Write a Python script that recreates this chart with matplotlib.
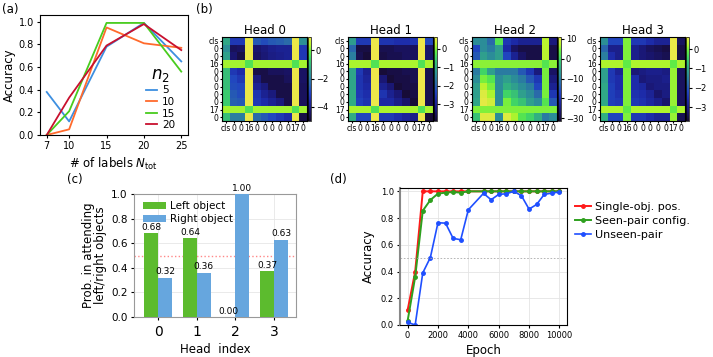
import numpy as np
import matplotlib
matplotlib.use('Agg')
import matplotlib.pyplot as plt
from matplotlib.colors import LinearSegmentedColormap

# ---- (a) accuracy vs number of labels
n_labels = [7, 10, 15, 20, 25]
acc_n2_5 = [0.38, 0.12, 0.78, 0.99, 0.65]
acc_n2_10 = [0.0, 0.05, 0.95, 0.81, 0.77]
acc_n2_15 = [0.0, 0.21, 0.99, 0.99, 0.56]
acc_n2_20 = [0.0, 0.33, 0.79, 0.98, 0.75]

# ---- (b) attention logits per head
tok_labels = ['cls', '0', '0', '16', '0', '0', '0', '0', '0', '17', '0']
head0 = [
    [-1.3, -3.2, -3.2, 0.9, -2.6, -2.8, -2.6, -2.5, -2.3, 0.9, -1.7],
    [-1.7, -4.5, -4.4, 0.9, -4.3, -4.1, -3.9, -3.8, -3.8, 0.9, -3.2],
    [-1.4, -4.3, -4.7, 0.9, -4.4, -4.2, -4.0, -3.9, -3.8, 0.9, -3.2],
    [0.3, 0.3, 0.3, -0.3, 0.3, 0.3, 0.3, 0.3, 0.3, -0.3, 0.3],
    [-0.9, -3.2, -3.5, 0.9, -4.7, -4.7, -4.5, -4.5, -4.4, 0.9, -4.4],
    [-0.9, -2.9, -3.2, 0.9, -4.1, -4.7, -4.7, -4.7, -4.5, 0.9, -4.4],
    [-0.9, -2.8, -2.9, 0.9, -3.8, -4.1, -4.7, -4.7, -4.7, 0.9, -4.5],
    [-0.7, -2.6, -2.8, 0.9, -3.3, -3.8, -4.1, -4.7, -4.7, 0.9, -4.5],
    [-0.7, -2.5, -2.6, 0.9, -3.2, -3.5, -3.8, -4.1, -4.7, 0.9, -4.5],
    [0.3, 0.3, 0.3, -0.3, 0.3, 0.3, 0.3, 0.3, 0.3, -0.3, 0.3],
    [-0.9, -2.0, -2.0, 0.9, -2.3, -2.6, -2.9, -3.2, -3.5, 0.9, -4.7],
]
head1 = [
    [-1.2, -2.5, -2.5, 0.65, -2.6, -2.6, -2.7, -2.7, -2.6, 0.65, -2.3],
    [-1.9, -3.7, -3.7, 0.65, -3.6, -3.6, -3.5, -3.5, -3.5, 0.65, -3.4],
    [-1.6, -3.6, -3.8, 0.65, -3.7, -3.6, -3.6, -3.5, -3.5, 0.65, -3.4],
    [0.2, 0.2, 0.2, -0.3, 0.2, 0.2, 0.2, 0.2, 0.2, -0.3, 0.2],
    [-1.1, -2.5, -3.0, 0.65, -3.8, -3.7, -3.7, -3.6, -3.6, 0.65, -3.6],
    [-1.1, -2.6, -2.9, 0.65, -3.3, -3.8, -3.7, -3.7, -3.6, 0.65, -3.6],
    [-1.1, -2.6, -2.8, 0.65, -3.0, -3.3, -3.8, -3.7, -3.7, 0.65, -3.6],
    [-1.0, -2.5, -2.7, 0.65, -2.6, -3.0, -3.3, -3.8, -3.7, 0.65, -3.6],
    [-1.0, -2.4, -2.6, 0.65, -2.8, -2.8, -3.1, -3.4, -3.8, 0.65, -3.6],
    [0.2, 0.2, 0.2, -0.3, 0.2, 0.2, 0.2, 0.2, 0.2, -0.3, 0.2],
    [-1.0, -2.3, -2.3, 0.65, -2.5, -2.5, -2.7, -2.9, -3.1, 0.65, -3.8],
]
head2 = [
    [-8.1, -8.1, -12.4, 2.5, -18.8, -20.9, -23.0, -23.0, -23.0, 7.6, -25.1],
    [-16.6, -8.1, -10.3, -6.0, -20.9, -27.3, -29.4, -29.4, -29.4, 7.6, -29.4],
    [-14.5, -6.0, -8.1, -6.0, -16.6, -23.0, -27.3, -29.4, -29.4, 7.6, -29.4],
    [5.5, 5.5, 5.5, 5.5, 5.5, 5.5, 5.5, 5.5, 5.5, 2.5, 5.5],
    [-10.3, 0.4, -6.0, -10.3, -10.3, -10.3, -14.5, -18.8, -25.1, 4.6, -27.3],
    [-8.1, 4.6, 2.5, -8.1, -6.0, -8.1, -10.3, -14.5, -18.8, 4.6, -25.1],
    [-6.0, 7.6, 4.6, -8.1, -3.9, -6.0, -8.1, -10.3, -16.6, 4.6, -23.0],
    [-6.0, 9.7, 6.8, -8.1, 0.4, -1.8, -6.0, -8.1, -12.4, 4.6, -18.8],
    [-5.2, 10.2, 8.9, -8.1, 4.6, 0.4, -1.8, -6.0, -8.1, 2.5, -14.5],
    [5.0, 5.0, 5.0, 5.0, 5.0, 5.0, 5.0, 5.0, 5.0, 5.0, 5.0],
    [-1.8, 9.7, 9.7, -8.1, 9.7, 6.8, 2.5, 0.4, -3.9, -10.3, -8.1],
]
head3 = [
    [-1.3, -2.2, -2.2, 0.0, -2.4, -2.4, -2.6, -2.8, -2.8, 0.6, -3.3],
    [-1.8, -2.9, -2.9, 0.0, -2.9, -3.1, -3.3, -3.4, -3.5, 0.6, -3.5],
    [-1.5, -2.6, -2.9, 0.0, -2.9, -3.1, -3.2, -3.3, -3.4, 0.6, -3.5],
    [0.2, 0.2, 0.2, -0.15, 0.2, 0.2, 0.2, 0.2, 0.2, -0.15, 0.2],
    [-1.1, -2.4, -2.8, 0.0, -3.1, -3.0, -2.9, -2.9, -3.0, 0.1, -3.3],
    [-1.1, -2.4, -2.6, 0.0, -2.6, -3.1, -3.0, -3.0, -2.9, 0.1, -3.3],
    [-1.0, -2.3, -2.6, 0.0, -2.6, -2.7, -3.1, -3.0, -3.0, 0.1, -3.3],
    [-1.0, -2.3, -2.5, 0.0, -2.5, -2.6, -2.8, -3.2, -3.0, 0.1, -3.3],
    [-1.0, -2.3, -2.4, 0.0, -2.4, -2.5, -2.7, -2.9, -3.2, 0.1, -3.3],
    [0.2, 0.2, 0.2, -0.15, 0.2, 0.2, 0.2, 0.2, 0.2, -0.15, 0.2],
    [-0.9, -2.2, -2.2, 0.0, -2.4, -2.4, -2.6, -2.8, -2.8, 0.1, -3.4],
]
head_ranges = [(-5.0, 0.93), (-3.9, 0.65), (-31.5, 11.0), (-3.7, 0.62)]
head_cticks = [[0, -2, -4], [0, -1, -2, -3], [10, 0, -10, -20, -30], [0, -1, -2, -3]]

# ---- (c) left / right attention probability
heads = [0, 1, 2, 3]
p_left = [0.68, 0.64, 0.00, 0.37]
p_right = [0.32, 0.36, 1.00, 0.63]

# ---- (d) accuracy vs epoch
epochs = [0, 500, 1000, 1500, 2000, 2500, 3000, 3500, 4000,
          5000, 5500, 6000, 6500, 7000, 7500, 8000, 8500, 9000, 9500, 10000]
acc_single = [0.11, 0.40, 1.0, 1.0, 1.0, 1.0, 1.0, 1.0, 1.0,
              1.0, 1.0, 1.0, 1.0, 1.0, 1.0, 1.0, 1.0, 1.0, 1.0, 1.0]
acc_seen = [0.03, 0.36, 0.855, 0.935, 0.983, 0.99, 0.995, 0.99, 1.0,
            1.0, 1.0, 1.0, 1.0, 1.0, 1.0, 1.0, 1.0, 1.0, 1.0, 1.0]
acc_unseen = [0.02, 0.0, 0.39, 0.505, 0.765, 0.762, 0.648, 0.638, 0.862,
              0.985, 0.937, 0.977, 0.982, 1.0, 0.967, 0.867, 0.902, 0.977, 0.987, 0.995]

W, H = 713, 357
fig = plt.figure(figsize=(W / 100, H / 100), dpi=100)


def box(l, t, r, b):
    return fig.add_axes([l / W, 1 - b / H, (r - l) / W, (b - t) / H])


# ================= (a)
ax = box(40, 15, 188, 135)
ax.plot(n_labels, acc_n2_5, color='#3d8fe0', lw=1.3, label='5')
ax.plot(n_labels, acc_n2_10, color='#ff6a2c', lw=1.3, label='10')
ax.plot(n_labels, acc_n2_15, color='#48cc1e', lw=1.3, label='15')
ax.plot(n_labels, acc_n2_20, color='#c8102e', lw=1.3, label='20')
ax.set_ylim(0, 1.06)
ax.set_xticks(n_labels)
ax.tick_params(labelsize=7, length=2.5, pad=2)
ax.set_ylabel('Accuracy', fontsize=8.5, labelpad=2)
ax.set_xlabel(r'# of labels $N_{\mathrm{tot}}$', fontsize=8.5, labelpad=3)
leg = ax.legend(title=r'$n_2$', fontsize=7.5, title_fontsize=12, frameon=False,
                loc='lower right', bbox_to_anchor=(0.965, -0.02), handlelength=1.1,
                handletextpad=0.5, labelspacing=0.15, borderpad=0.2)
fig.text(2 / W, 1 - 13 / H, '(a)', fontsize=8.5)

# ================= (b)
cmap = LinearSegmentedColormap.from_list('att', [
    (0.00, '#170b2e'), (0.12, '#1a1670'), (0.25, '#1d2aa8'), (0.35, '#2146c0'),
    (0.45, '#2a6aaa'), (0.55, '#2c8e98'), (0.65, '#32b082'), (0.75, '#3fd468'),
    (0.83, '#62ee44'), (0.91, '#b4f52c'), (1.00, '#eee84a')])
fig.text(196 / W, 1 - 13 / H, '(b)', fontsize=8.5)
heat_left = [222, 348, 472, 600]
for i, mat in enumerate([head0, head1, head2, head3]):
    l = heat_left[i]
    hx = box(l, 37, l + 85, 121)
    vmin, vmax = head_ranges[i]
    im = hx.imshow(np.array(mat), cmap=cmap, vmin=vmin, vmax=vmax, aspect='auto',
                   interpolation='nearest')
    hx.set_xticks(range(len(tok_labels)))
    hx.set_xticklabels(tok_labels)
    hx.set_yticks(range(len(tok_labels)))
    hx.set_yticklabels(tok_labels)
    hx.tick_params(labelsize=5.5, length=1.5, pad=1)
    hx.set_title('Head %d' % i, fontsize=8.5, pad=2)
    cax = box(l + 86, 37, l + 89, 121)
    cb = fig.colorbar(im, cax=cax, ticks=head_cticks[i])
    cb.ax.tick_params(labelsize=6, length=2, pad=1.5)
    cb.outline.set_linewidth(0.5)

# ================= (c)
ax = box(134, 194, 296, 317)
x = np.arange(len(heads))
w = 0.36
b1 = ax.bar(x - w / 2, p_left, w, color='#5cbb2e', label='Left object', zorder=3)
b2 = ax.bar(x + w / 2, p_right, w, color='#66a6de', label='Right object', zorder=3)
for bars in (b1, b2):
    for r in bars:
        ax.text(r.get_x() + r.get_width() / 2, r.get_height() + 0.01,
                '%.2f' % r.get_height(), ha='center', va='bottom', fontsize=6.5)
ax.axhline(0.5, color='#ff8888', ls=':', lw=1, zorder=2)
ax.set_ylim(0, 1.0)
ax.set_xlim(-0.63, 3.57)
ax.set_xticks(x)
ax.set_xticklabels([str(h) for h in heads], fontsize=10)
ax.tick_params(axis='y', labelsize=7.5, length=2.5, pad=2)
ax.tick_params(axis='x', length=2.5, pad=3)
ax.grid(True, color='#e6e6e6', lw=0.6, zorder=0)
for s in ax.spines.values():
    s.set_color('#999999')
ax.set_ylabel('Prob. in attending\nleft/right objects', fontsize=8.5, labelpad=3, linespacing=0.95)
ax.set_xlabel('Head  index', fontsize=8.5, labelpad=3)
ax.legend(fontsize=7.5, frameon=False, loc='upper left', bbox_to_anchor=(0.0, 1.02),
          handlelength=2.2, handletextpad=0.4, labelspacing=0.3)
fig.text(67 / W, 1 - 183 / H, '(c)', fontsize=8.5)

# ================= (d)
ax = box(400, 188, 567, 325)
ax.plot(epochs, acc_single, color='#ff1a1a', marker='o', ms=2.5, lw=1.4, label='Single-obj. pos.')
ax.plot(epochs, acc_seen, color='#2ea01e', marker='o', ms=2.5, lw=1.4, label='Seen-pair config.')
ax.plot(epochs, acc_unseen, color='#1f4fff', marker='o', ms=2.5, lw=1.2, label='Unseen-pair')
ax.axhline(0.5, color='#aaaaaa', ls='--', lw=0.6, dashes=(2, 2))
ax.set_ylim(0, 1.025)
ax.set_xlim(-500, 10500)
ax.set_xticks([0, 2000, 4000, 6000, 8000, 10000])
ax.set_yticks([0.0, 0.2, 0.4, 0.6, 0.8, 1.0])
ax.tick_params(labelsize=6, length=2.5, pad=2)
ax.grid(True, color='#e4e4e4', lw=0.6)
ax.spines['left'].set_color('#888888')
ax.spines['left'].set_linewidth(1.5)
ax.set_xlabel('Epoch', fontsize=8.5, labelpad=3)
ax.set_ylabel('Accuracy', fontsize=8.5, labelpad=4)
ax.legend(fontsize=8, frameon=False, loc='upper left', bbox_to_anchor=(1.02, 0.93),
          handlelength=1.5, handletextpad=0.3, labelspacing=0.35, borderaxespad=0)
fig.text(330 / W, 1 - 183 / H, '(d)', fontsize=8.5)

fig.savefig('out.png', dpi=100)
